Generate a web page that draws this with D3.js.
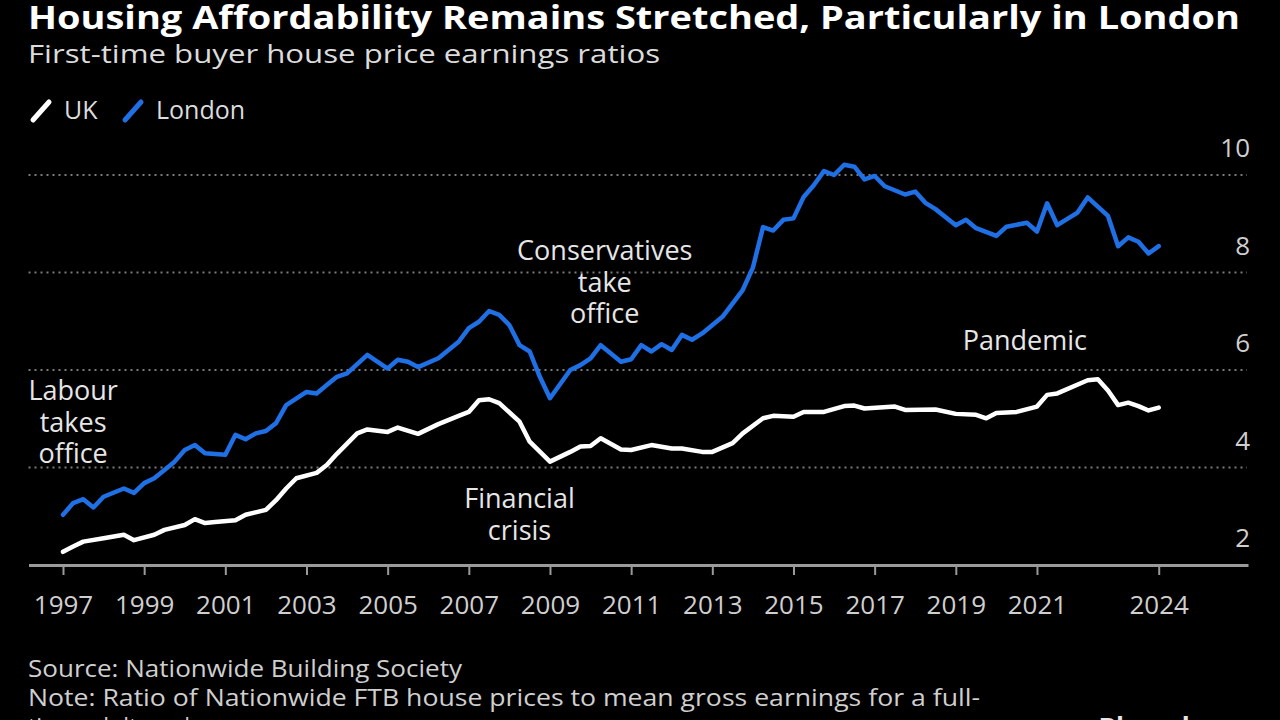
<!DOCTYPE html>
<html>
<head>
<meta charset="utf-8">
<script src="https://cdn.jsdelivr.net/npm/d3@7"></script>
<style>
  html, body { margin: 0; padding: 0; background: #000; }
  svg { display: block; }
  text { font-family: "Open Sans", "Liberation Sans", sans-serif; }
</style>
</head>
<body>
<svg id="chart" width="1280" height="720"></svg>
<script>
// ---- Data ----
const ukTimes = [1997.00, 1997.25, 1997.50, 1998.00, 1998.50, 1998.75, 1999.25, 1999.50, 2000.00, 2000.25,
  2000.50, 2000.75, 2001.25, 2001.50, 2002.00, 2002.25, 2002.50, 2002.75, 2003.25, 2003.50,
  2003.75, 2004.25, 2004.50, 2005.00, 2005.25, 2005.75, 2006.25, 2006.75, 2007.00, 2007.25,
  2007.50, 2007.75, 2008.25, 2008.50, 2009.00, 2009.50, 2009.75, 2010.00, 2010.25, 2010.75,
  2011.00, 2011.50, 2012.00, 2012.25, 2012.75, 2013.00, 2013.50, 2013.75, 2014.25, 2014.50,
  2015.00, 2015.25, 2015.75, 2016.25, 2016.50, 2016.75, 2017.50, 2017.75, 2018.50, 2019.00,
  2019.50, 2019.75, 2020.00, 2020.50, 2021.00, 2021.25, 2021.50, 2022.25, 2022.50, 2022.75,
  2023.00, 2023.25, 2023.50, 2023.75, 2024.00];
const ukValues = [2.27, 2.38, 2.48, 2.55, 2.62, 2.51, 2.62, 2.72, 2.82, 2.94,
  2.86, 2.88, 2.92, 3.03, 3.13, 3.33, 3.57, 3.78, 3.89, 4.05,
  4.28, 4.70, 4.78, 4.73, 4.82, 4.69, 4.89, 5.06, 5.14, 5.38,
  5.40, 5.32, 4.94, 4.53, 4.12, 4.32, 4.43, 4.44, 4.60, 4.37,
  4.36, 4.46, 4.39, 4.39, 4.32, 4.32, 4.50, 4.70, 5.01, 5.06,
  5.04, 5.14, 5.14, 5.26, 5.27, 5.21, 5.25, 5.18, 5.19, 5.10,
  5.08, 5.01, 5.12, 5.14, 5.25, 5.49, 5.52, 5.79, 5.81, 5.58,
  5.28, 5.33, 5.26, 5.17, 5.23];

const londonTimes = [1997.00, 1997.25, 1997.50, 1997.75, 1998.00, 1998.50, 1998.75, 1999.00, 1999.25, 1999.50,
  1999.75, 2000.00, 2000.25, 2000.50, 2001.00, 2001.25, 2001.50, 2001.75, 2002.00, 2002.25,
  2002.50, 2003.00, 2003.25, 2003.50, 2003.75, 2004.00, 2004.50, 2005.00, 2005.25, 2005.50,
  2005.75, 2006.25, 2006.75, 2007.00, 2007.25, 2007.50, 2007.75, 2008.00, 2008.25, 2008.50,
  2008.75, 2009.00, 2009.50, 2009.75, 2010.00, 2010.25, 2010.50, 2010.75, 2011.00, 2011.25,
  2011.50, 2011.75, 2012.00, 2012.25, 2012.50, 2012.75, 2013.25, 2013.75, 2014.00, 2014.25,
  2014.50, 2014.75, 2015.00, 2015.25, 2015.50, 2015.75, 2016.00, 2016.25, 2016.50, 2016.75,
  2017.00, 2017.25, 2017.75, 2018.00, 2018.25, 2018.50, 2019.00, 2019.25, 2019.50, 2020.00,
  2020.25, 2020.75, 2021.00, 2021.25, 2021.50, 2022.00, 2022.25, 2022.75, 2023.00, 2023.25,
  2023.50, 2023.75, 2024.00];
const londonValues = [3.03, 3.27, 3.35, 3.18, 3.40, 3.57, 3.48, 3.68, 3.78, 3.95,
  4.12, 4.36, 4.46, 4.29, 4.26, 4.67, 4.58, 4.70, 4.75, 4.91,
  5.28, 5.55, 5.52, 5.69, 5.86, 5.93, 6.31, 6.03, 6.21, 6.17,
  6.06, 6.24, 6.58, 6.86, 6.99, 7.21, 7.13, 6.92, 6.51, 6.38,
  5.86, 5.42, 6.00, 6.10, 6.24, 6.51, 6.34, 6.17, 6.22, 6.51,
  6.38, 6.53, 6.41, 6.72, 6.62, 6.75, 7.09, 7.64, 8.10, 8.93,
  8.86, 9.08, 9.11, 9.55, 9.79, 10.08, 10.00, 10.21, 10.17, 9.91,
  9.98, 9.77, 9.60, 9.66, 9.43, 9.30, 8.97, 9.08, 8.91, 8.75,
  8.94, 9.02, 8.84, 9.42, 8.97, 9.23, 9.54, 9.16, 8.54, 8.72,
  8.63, 8.39, 8.54];

const xTickYears = [1997, 1999, 2001, 2003, 2005, 2007, 2009, 2011, 2013, 2015, 2017, 2019, 2021, 2024];
const yTickValues = [2, 4, 6, 8, 10];
const gridValues = [4, 6, 8, 10];

const seriesNames = ["UK", "London"];
const seriesColors = ["#ffffff", "#1f6fe5"];

const titleText = "Housing Affordability Remains Stretched, Particularly in London";
const subtitleText = "First-time buyer house price earnings ratios";
const sourceText = "Source: Nationwide Building Society";
const noteLines = ["Note: Ratio of Nationwide FTB house prices to mean gross earnings for a full-", "time adult worker"];

const annotations = [
  { lines: ["Labour", "takes", "office"], x: 1997.25, y: 400 },
  { lines: ["Conservatives", "take", "office"], x: 2010.35, y: 260 },
  { lines: ["Financial", "crisis"], x: 2008.25, y: 508 },
  { lines: ["Pandemic"], x: 2020.7, y: 350 }
];

// ---- Drawing ----
const svg = d3.select("#chart");

const x = d3.scaleLinear().domain([1996.15, 2026.2]).range([28.5, 1248]);
const y = d3.scaleLinear().domain([2, 10]).range([565, 175]);

// Title / subtitle
function fit(sel, w) {
  const n = sel.node().getComputedTextLength();
  if (Math.abs(n - w) > 2) sel.attr("textLength", w).attr("lengthAdjust", "spacingAndGlyphs");
}
fit(svg.append("text").attr("x", 28).attr("y", 29).attr("fill", "#ffffff")
  .attr("font-size", 32).attr("font-weight", 700).text(titleText), 1212);
fit(svg.append("text").attr("x", 28).attr("y", 63).attr("fill", "#dcdcdc")
  .attr("font-size", 25).text(subtitleText), 632);

// Legend
const legendX = [30, 122];
seriesNames.forEach((name, i) => {
  const g = svg.append("g").attr("transform", `translate(${legendX[i]},0)`);
  g.append("line").attr("x1", 3).attr("y1", 120).attr("x2", 19).attr("y2", 102)
    .attr("stroke", seriesColors[i]).attr("stroke-width", 5).attr("stroke-linecap", "round");
  g.append("text").attr("x", 34).attr("y", 119).attr("fill", "#dcdcdc")
    .attr("font-size", 25).text(name);
});

// Gridlines (dotted)
svg.append("g").selectAll("line").data(gridValues).join("line")
  .attr("x1", 28.5).attr("x2", 1247)
  .attr("y1", d => y(d)).attr("y2", d => y(d))
  .attr("stroke", "#7a7a7a").attr("stroke-width", 2)
  .attr("stroke-dasharray", "2,4");

// Y labels (above the gridlines, right aligned)
svg.append("g").selectAll("text").data(yTickValues).join("text")
  .attr("x", 1250).attr("y", d => y(d) - 18)
  .attr("text-anchor", "end").attr("fill", "#cfcfcf")
  .attr("font-size", 26).text(d => d);

// X axis
const xAxis = d3.axisBottom(x).tickValues(xTickYears).tickFormat(d3.format("d"))
  .tickSize(10).tickSizeOuter(0);
const gx = svg.append("g").attr("transform", `translate(0,${y(2)})`).call(xAxis);
gx.select(".domain").attr("stroke", "#9a9a9a").attr("stroke-width", 3);
gx.selectAll(".tick line").attr("stroke", "#9a9a9a").attr("stroke-width", 2);
gx.selectAll(".tick text").attr("fill", "#cfcfcf").attr("font-size", 26)
  .attr("font-family", '"Open Sans", "Liberation Sans", sans-serif').attr("dy", "0").attr("y", 49);

// Lines
const line = d3.line().x(d => x(d[0])).y(d => y(d[1]));
const ukData = ukTimes.map((t, i) => [t, ukValues[i]]);
const londonData = londonTimes.map((t, i) => [t, londonValues[i]]);
[ukData, londonData].forEach((data, i) => {
  svg.append("path").datum(data).attr("d", line)
    .attr("fill", "none").attr("stroke", seriesColors[i])
    .attr("stroke-width", 4.5).attr("stroke-linejoin", "round").attr("stroke-linecap", "round");
});

// Annotations
annotations.forEach(a => {
  const t = svg.append("text").attr("text-anchor", "middle").attr("fill", "#e6e6e6").attr("font-size", 27);
  a.lines.forEach((l, i) => {
    t.append("tspan").attr("x", x(a.x)).attr("y", a.y + i * 31.5).text(l);
  });
});

// Footer
fit(svg.append("text").attr("x", 28).attr("y", 677).attr("fill", "#cfcfcf")
  .attr("font-size", 23).text(sourceText), 434);
fit(svg.append("text").attr("x", 28).attr("y", 706).attr("fill", "#cfcfcf")
  .attr("font-size", 23).text(noteLines[0]), 952);
svg.append("text").attr("x", 28).attr("y", 735).attr("fill", "#cfcfcf")
  .attr("font-size", 23).text(noteLines[1]);
svg.append("text").attr("x", 1240).attr("y", 737).attr("text-anchor", "end").attr("fill", "#e6e6e6")
  .attr("font-size", 26).attr("font-weight", 700).text("Bloomberg");
</script>
</body>
</html>
